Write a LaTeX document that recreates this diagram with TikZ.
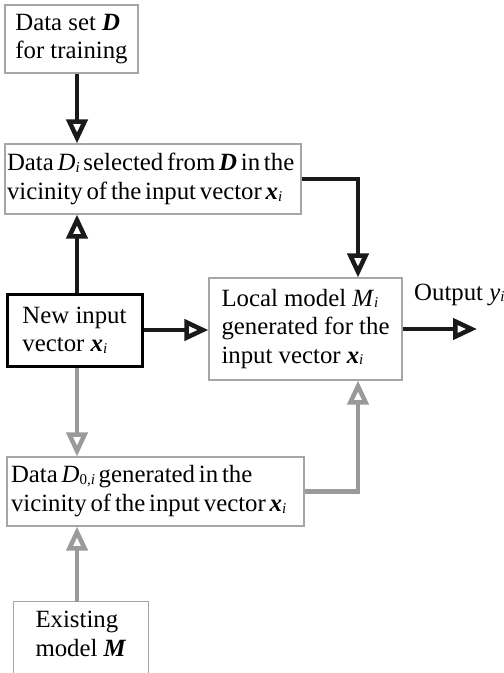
\documentclass[tikz,border=0pt]{standalone}
\usepackage{fontspec}
\setmainfont{Liberation Serif}
\usetikzlibrary{arrows.meta}
\newcommand{\bi}[1]{\textbf{\textit{#1}}}
\newcommand{\sbi}[1]{\raisebox{-1.5pt}{\fontsize{15}{15}\selectfont\itshape #1}}
\newcommand{\tightsp}{\spaceskip=3.8pt\relax}
\definecolor{boxgray}{HTML}{A6A6A6}
\definecolor{arrgray}{HTML}{9A9A9A}
\definecolor{arrblack}{HTML}{1A1A1A}
\begin{document}
\begin{tikzpicture}[x=1pt,y=-1pt,
  font=\fontsize{24.8}{28.5}\selectfont,
  box/.style={draw=boxgray, line width=1.2pt, align=left, inner sep=0pt, fill=white},
  widebox/.style={box, font=\fontsize{24.8}{29}\selectfont},
  blackarr/.style={draw=arrblack, line width=4.5pt, -{Triangle[open,length=24pt,width=21pt]}},
  grayarr/.style={draw=arrgray, line width=4.5pt, -{Triangle[open,length=24pt,width=21pt]}}]
\useasboundingbox (0,0) rectangle (504,673);
\coordinate (colA) at (77,0);
\coordinate (colB) at (358,0);
\node[box, minimum width=133pt, minimum height=68pt] (b1) at (71.5,39) {Data set \bi{D}\\for training};
\node[widebox, text width=292pt, inner xsep=2pt, minimum width=296pt, minimum height=70pt] (b2) at (153,179) {\tightsp Data \textit{D}\sbi{i} selected from \bi{D} in the\\vicinity of the input vector \bi{x}\sbi{i}};
\node[box, draw=black, line width=3pt, minimum width=135pt, minimum height=72pt] (ni) at (74.5,330) {New input\\vector \bi{x}\sbi{i}};
\node[box, minimum width=193pt, minimum height=102pt] (b3) at (305.5,329) {Local model \textit{M}\sbi{i}\\generated for the\\input vector \bi{x}\sbi{i}};
\node[widebox, text width=289pt, inner xsep=4pt, minimum width=297pt, minimum height=69pt] (b4) at (155.5,491.5) {\tightsp Data \textit{D}{\raisebox{-1.5pt}{\fontsize{15}{15}\selectfont 0,\textit{i}}} generated in the\\vicinity of the input vector \bi{x}\sbi{i}};
\node[align=left, inner sep=0pt, minimum width=134pt, minimum height=64pt] (b5) at (81,634) {Existing\\model \bi{M}};
\draw[draw=boxgray, line width=1.2pt] (b5.north west) rectangle ([yshift=-20pt]b5.south east);
\node[anchor=base west, inner sep=0pt] (outl) at (414,300) {Output \textit{y}\sbi{i}};
\coordinate (outend) at (477,329);
% black connectors
\draw[blackarr] (b1.south -| colA) -- (b2.north -| colA);
\draw[blackarr] (ni.north -| colA) -- (b2.south -| colA);
\draw[blackarr] (b2.east) -- (b2.east -| colB) -- (b3.north -| colB);
\draw[blackarr] (ni.east) -- (ni.east -| b3.west);
\draw[blackarr] (b3.east) -- (outend);
% gray connectors
\draw[grayarr] (ni.south -| colA) -- (b4.north -| colA);
\draw[grayarr] (b5.north -| colA) -- (b4.south -| colA);
\draw[grayarr] (b4.east) -- (b4.east -| colB) -- (b3.south -| colB);
\end{tikzpicture}
\end{document}
